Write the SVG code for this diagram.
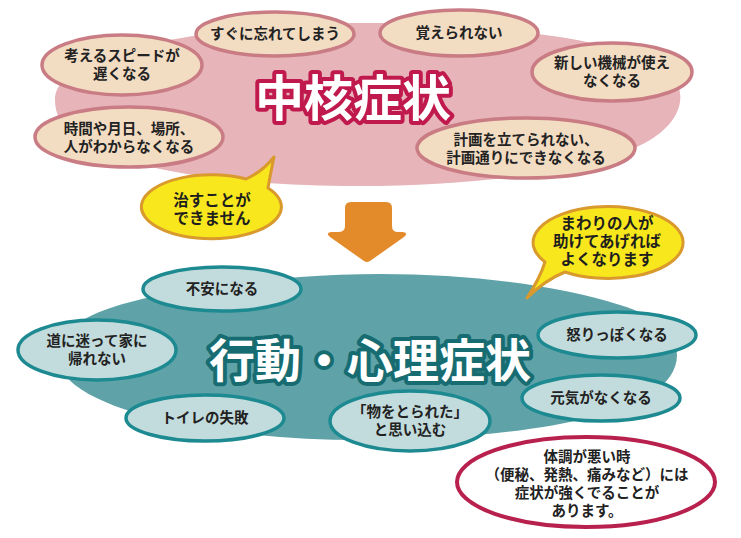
<svg xmlns="http://www.w3.org/2000/svg" width="741" height="538" viewBox="0 0 741 538">
<style>
text{font-family:"Liberation Sans","Noto Sans CJK JP",sans-serif;font-weight:bold;text-anchor:middle;fill:#222}
.n{font-size:14.5px}
.pk{fill:#f2dcc2;stroke:#c97c83;stroke-width:3.5}
.tl{fill:#c2dbdc;stroke:#1d8a91;stroke-width:3.5}
.bub{fill:#f7e71c;stroke:#d9992c;stroke-width:3;stroke-linejoin:round}
.bt{font-size:15.5px;fill:#1e1e1e}
.title1{font-size:49px;fill:#fff;stroke:#c0194d;stroke-width:8;paint-order:stroke;stroke-linejoin:round}
.title2{font-size:46px;fill:#fff;stroke:#176c72;stroke-width:8;paint-order:stroke;stroke-linejoin:round}
</style>
<rect width="741" height="538" fill="#fff"/>
<g id="core-area">
<path d="M 55 100 C 55 60 150 35 300 25 C 420 18 560 30 640 55 C 692 72 692 115 650 140 C 600 170 480 186 360 186 C 240 186 130 172 80 140 C 62 128 55 115 55 100 Z" fill="#e6b4b9"/>
<text class="title1" x="353" y="116">中核症状</text>
</g>
<g id="bpsd-area">
<path d="M 60 345 C 70 310 150 290 300 277 C 420 268 540 280 620 305 C 690 325 690 370 650 395 C 600 425 480 440 360 440 C 240 440 120 420 75 385 C 62 375 58 360 60 345 Z" fill="#5fa3a8"/>
<text class="title2" x="370" y="377">行動・心理症状</text>
</g>
<g id="connectors">
<path d="M 351 202 Q 345 202 345 208 L 345 226 Q 345 232 338 232 L 331 232 Q 325 233 330 237 L 364 261 Q 367 263 370 261 L 404 237 Q 409 233 403 232 L 398 232 Q 392 232 392 226 L 392 208 Q 392 202 386 202 Z" fill="#e38b2b"/>
</g>
<g id="c1"><ellipse class="pk" cx="122" cy="65" rx="80" ry="30"/><text class="n" x="122" y="61">考えるスピードが<tspan x="122" dy="18">遅くなる</tspan></text></g>
<g id="c2"><ellipse class="pk" cx="275" cy="34" rx="79" ry="22"/><text class="n" x="275" y="39">すぐに忘れてしまう</text></g>
<g id="c3"><ellipse class="pk" cx="129" cy="137" rx="94" ry="30"/><text class="n" x="129" y="134">時間や月日、場所、<tspan x="129" dy="18">人がわからなくなる</tspan></text></g>
<g id="c4"><ellipse class="pk" cx="459" cy="33" rx="79" ry="23"/><text class="n" x="459" y="38">覚えられない</text></g>
<g id="c5"><ellipse class="pk" cx="612" cy="72" rx="80" ry="29"/><text class="n" x="612" y="68">新しい機械が使え<tspan x="612" dy="18">なくなる</tspan></text></g>
<g id="c6"><ellipse class="pk" cx="526" cy="148" rx="109" ry="30"/><text class="n" x="526" y="145">計画を立てられない、<tspan x="526" dy="18">計画通りにできなくなる</tspan></text></g>
<g id="bubble1"><path class="bub" d="M 268 188 A 70 32 0 1 1 246 179 Q 262 172 274 157 Q 270 176 268 188 Z"/><text class="bt" x="212" y="206">治すことが<tspan x="212" dy="18">できません</tspan></text></g>
<g id="bubble2"><path class="bub" d="M 545 262 A 75 36 0 1 1 565 272 Q 545 280 527 298 Q 540 278 545 262 Z"/><text class="bt" x="607" y="229">まわりの人が<tspan x="607" dy="18">助けてあげれば</tspan><tspan x="607" dy="18">よくなります</tspan></text></g>
<g id="b1"><ellipse class="tl" cx="222" cy="289" rx="79" ry="22"/><text class="n" x="222" y="294">不安になる</text></g>
<g id="b2"><ellipse class="tl" cx="97" cy="350" rx="79" ry="30"/><text class="n" x="97" y="346">道に迷って家に<tspan x="97" dy="18">帰れない</tspan></text></g>
<g id="b3"><ellipse class="tl" cx="205" cy="418" rx="79" ry="23"/><text class="n" x="205" y="423">トイレの失敗</text></g>
<g id="b4"><ellipse class="tl" cx="410" cy="421" rx="80" ry="30"/><text class="n" x="410" y="417">「物をとられた」<tspan x="410" dy="18">と思い込む</tspan></text></g>
<g id="b5"><ellipse class="tl" cx="617" cy="335" rx="79" ry="23"/><text class="n" x="617" y="340">怒りっぽくなる</text></g>
<g id="b6"><ellipse class="tl" cx="601" cy="398" rx="79" ry="23"/><text class="n" x="601" y="403">元気がなくなる</text></g>
<g id="note"><ellipse cx="586" cy="482" rx="129" ry="45" fill="#fff" stroke="#b8214d" stroke-width="4"/><text class="n" x="587" y="462">体調が悪い時<tspan x="587" dy="18">（便秘、発熱、痛みなど）には</tspan><tspan x="587" dy="18">症状が強くでることが</tspan><tspan x="587" dy="18">あります。</tspan></text></g>
</svg>
